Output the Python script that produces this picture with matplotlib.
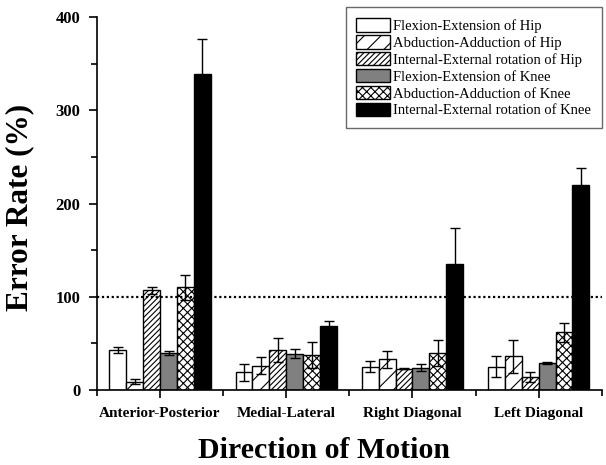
import matplotlib
matplotlib.use("Agg")
import matplotlib.pyplot as plt
import numpy as np

categories = ["Anterior-Posterior", "Medial-Lateral", "Right Diagonal", "Left Diagonal"]
series = ["Flexion-Extension of Hip", "Abduction-Adduction of Hip",
          "Internal-External rotation of Hip", "Flexion-Extension of Knee",
          "Abduction-Adduction of Knee", "Internal-External rotation of Knee"]
values = [
    [43, 19, 25, 25],
    [9, 26, 33, 36],
    [107, 43, 23, 14],
    [40, 39, 24, 29],
    [110, 38, 40, 62],
    [339, 69, 135, 220],
]
errors = [
    [3, 9, 6, 11],
    [3, 9, 9, 18],
    [4, 13, 1, 5],
    [2, 5, 4, 1],
    [13, 14, 14, 10],
    [38, 5, 39, 18],
]
yticks = [0, 100, 200, 300, 400]

plt.rcParams['font.family'] = ['Liberation Serif', 'DejaVu Serif']
plt.rcParams['hatch.linewidth'] = 0.8

styles = [
    dict(facecolor="white", hatch=None),
    dict(facecolor="white", hatch="//"),
    dict(facecolor="white", hatch="//////"),
    dict(facecolor="#808080", hatch=None),
    dict(facecolor="white", hatch="xxxx"),
    dict(facecolor="black", hatch=None),
]

fig = plt.figure(figsize=(6.06, 4.65), dpi=100)
ax = fig.add_axes([0.160, 0.1613, 0.833, 0.8017])

x = np.arange(len(categories))
bw = 0.134
for i, (s, v, e) in enumerate(zip(series, values, errors)):
    pos = x - 2.5 * bw + i * bw
    ax.bar(pos, v, bw, label=s, edgecolor="black", linewidth=1.0, **styles[i])
    ax.errorbar(pos, v, yerr=e, fmt="none", ecolor="black", elinewidth=1.0,
                capsize=3.5, capthick=1.0)

ax.axhline(100, color="black", linestyle=(0, (1, 1.2)), linewidth=1.6, zorder=3)

ax.set_xlim(-0.5, len(categories) - 0.5)
ax.set_ylim(0, 400)
ax.set_yticks(yticks)
ax.set_yticks([50, 150, 250, 350], minor=True)
ax.set_xticks(x)
ax.set_xticks(np.arange(-0.5, len(categories), 1.0), minor=True)
ax.set_xticklabels(categories, fontsize=11, fontweight="bold")
ax.set_yticklabels([str(t) for t in yticks], fontsize=12, fontweight="bold")
ax.tick_params(axis="x", which="major", length=6, width=1.2, direction="out", pad=6)
ax.tick_params(axis="x", which="minor", length=4, width=1.2, direction="out")
ax.tick_params(axis="y", which="major", length=6, width=1.2, direction="out", pad=6)
ax.tick_params(axis="y", which="minor", length=4, width=1.2, direction="out")
for sp in ["top", "right"]:
    ax.spines[sp].set_visible(False)
for sp in ["left", "bottom"]:
    ax.spines[sp].set_linewidth(1.2)

ax.set_ylabel("Error Rate (%)", fontsize=22.5, fontweight="bold")
ax.yaxis.set_label_coords(-0.125, 0.49)
ax.set_xlabel("Direction of Motion", fontsize=21.5, fontweight="bold")
ax.xaxis.set_label_coords(0.45, -0.127)

leg = ax.legend(loc="upper right", bbox_to_anchor=(1.0, 1.027), fontsize=10.5,
                frameon=True, fancybox=False, edgecolor="#444444",
                handlelength=2.3, handleheight=1.05, labelspacing=0.15,
                borderpad=0.75, handletextpad=0.2, borderaxespad=0.0)
leg.get_frame().set_linewidth(1.0)

fig.savefig("out.png", dpi=100)
